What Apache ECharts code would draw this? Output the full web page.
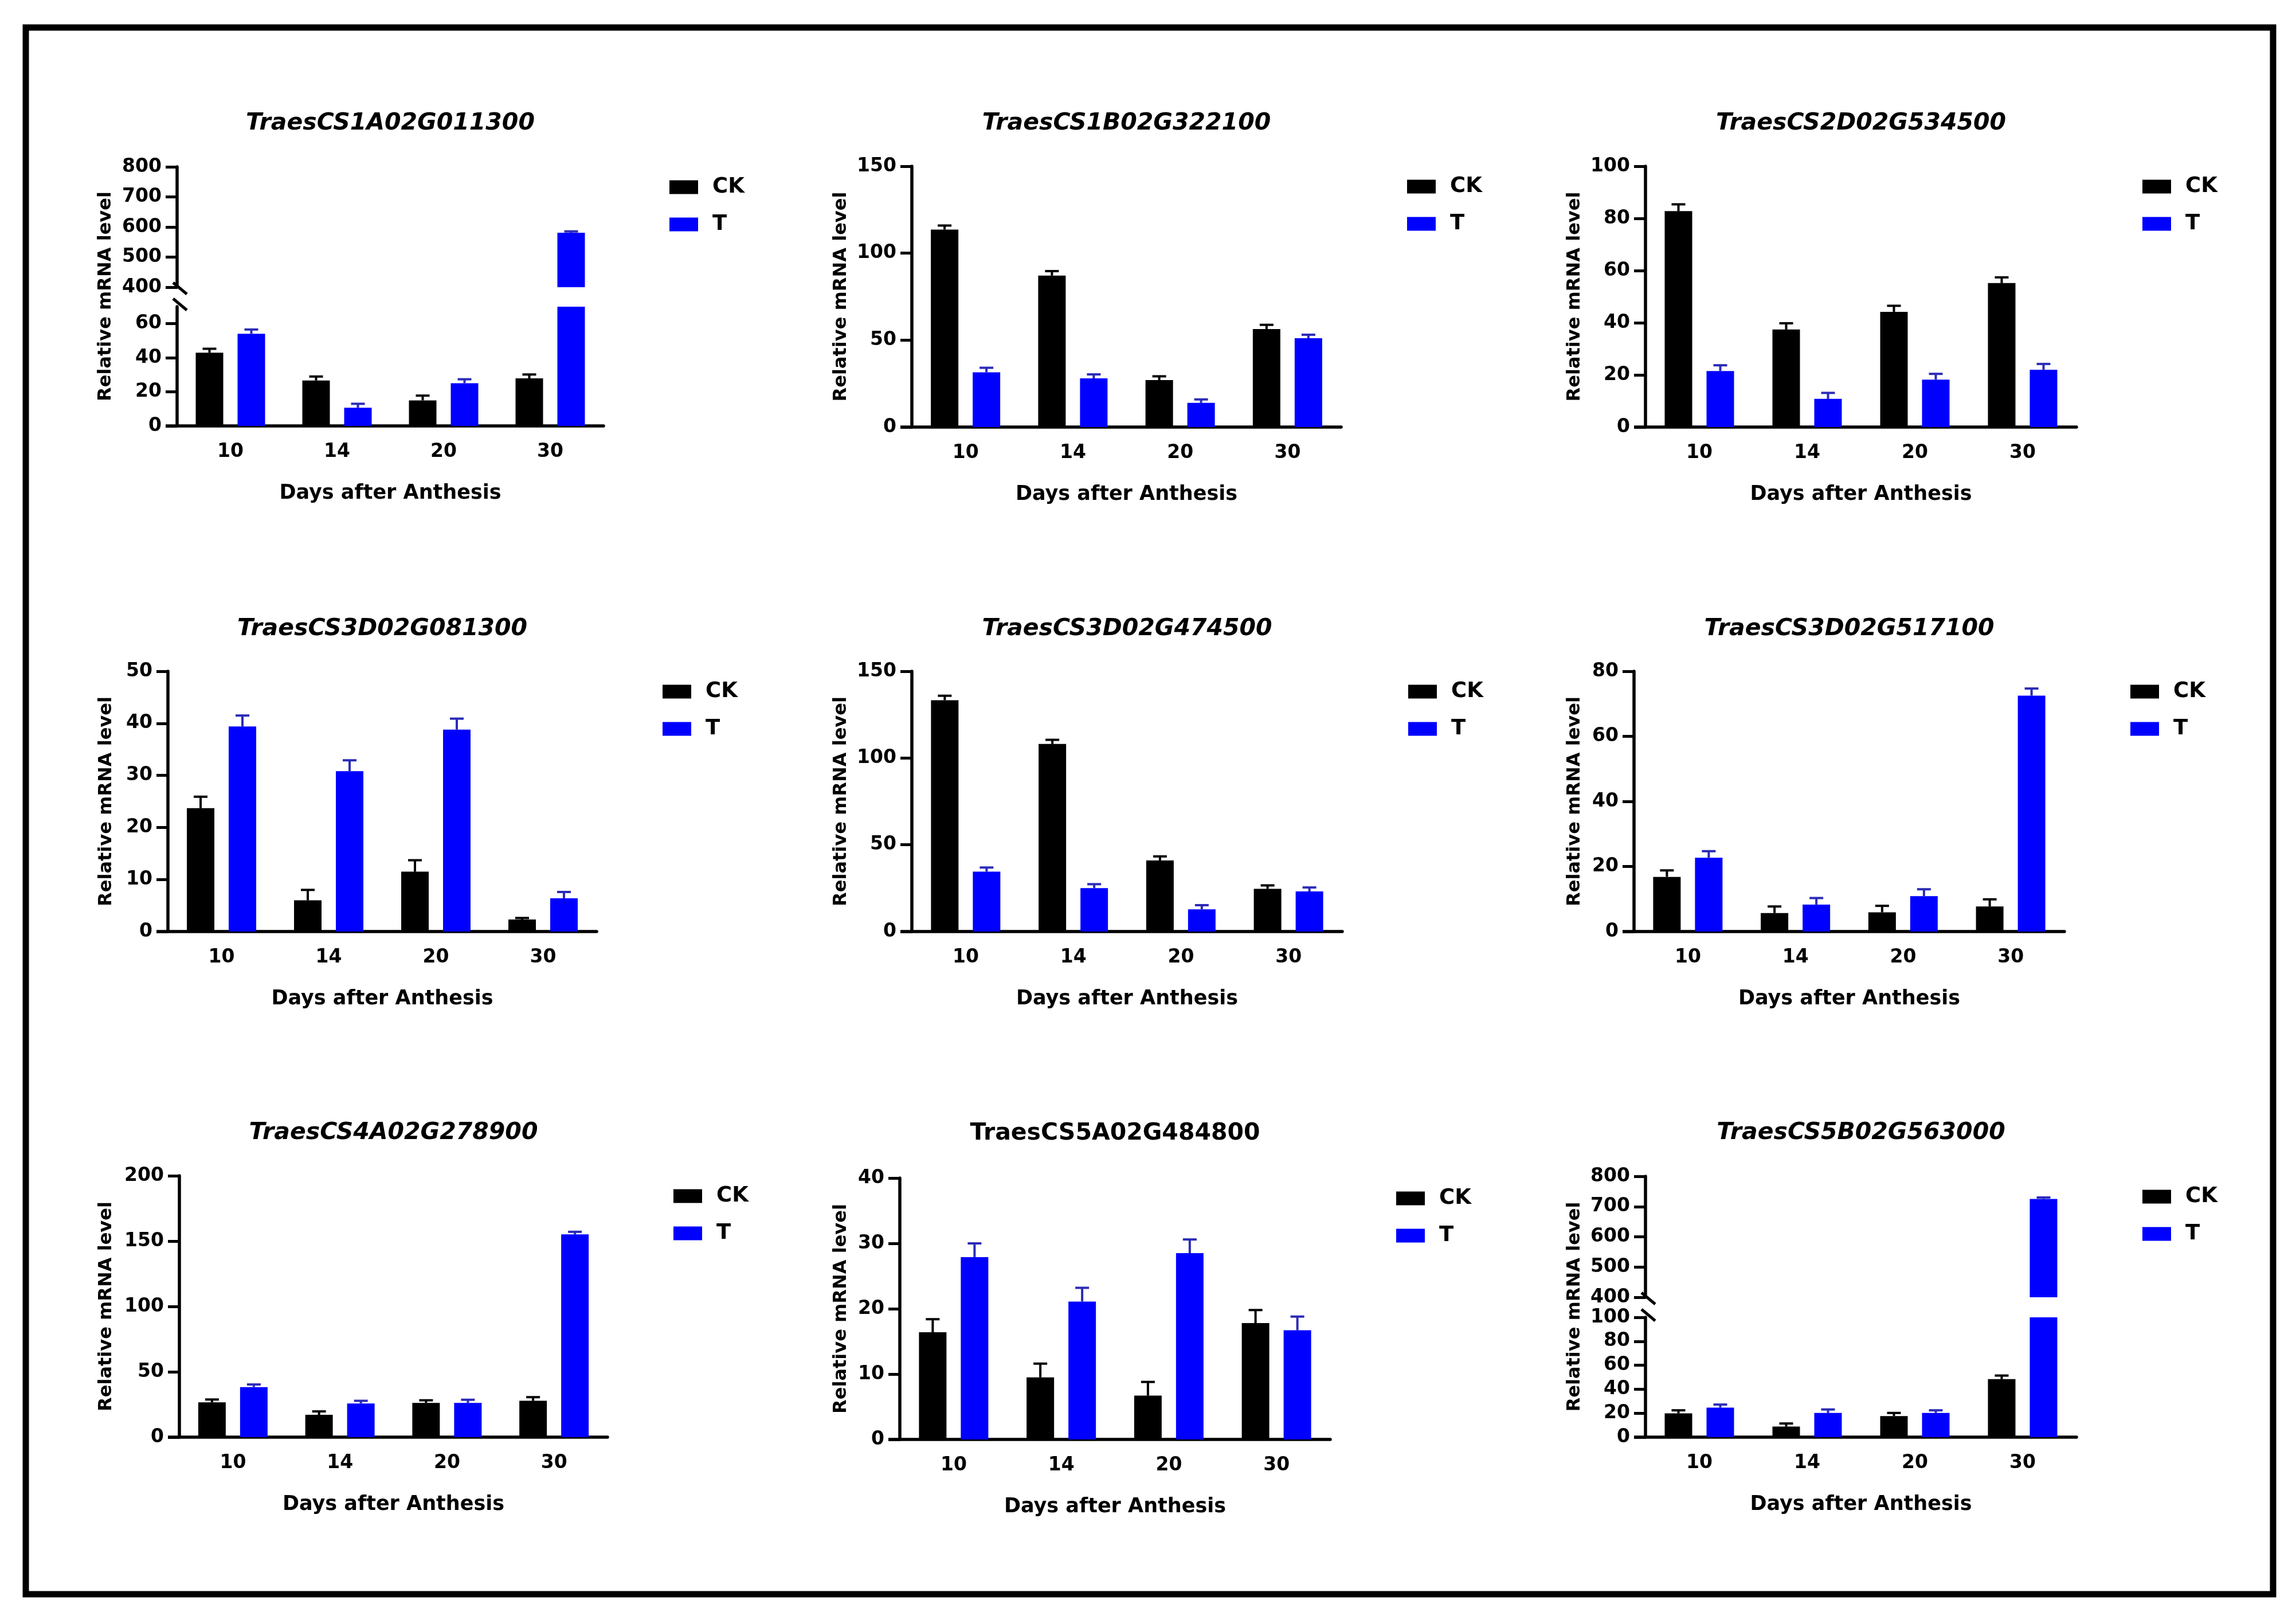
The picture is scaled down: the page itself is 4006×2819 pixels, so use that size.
<!DOCTYPE html>
<html><head><meta charset="utf-8">
<script src="https://cdn.jsdelivr.net/npm/echarts@6/dist/echarts.min.js"></script>
<style>html,body{margin:0;padding:0;background:#fff}#c{width:4006px;height:2819px}</style>
</head><body><div id="c"></div>
<script>
// ---------------- DATA ----------------
const days = ['10', '14', '20', '30'];
const seriesNames = ['CK', 'T'];
const xName = 'Days after Anthesis';
const yName = 'Relative mRNA level';
const genes = ['TraesCS1A02G011300', 'TraesCS1B02G322100', 'TraesCS2D02G534500',
               'TraesCS3D02G081300', 'TraesCS3D02G474500', 'TraesCS3D02G517100',
               'TraesCS4A02G278900', 'TraesCS5A02G484800', 'TraesCS5B02G563000'];

const p1_ck = [43, 26.7, 15, 27.9],     p1_ckErr = [2.3, 2.3, 2.8, 2.3];
const p1_t  = [54.1, 10.7, 25.1, 581],  p1_tErr  = [2.5, 2.3, 2.3, 4.5];
const p2_ck = [113.6, 87.1, 27, 56.4],  p2_ckErr = [2.3, 2.6, 2.2, 2.4];
const p2_t  = [31.5, 28, 13.9, 51.1],   p2_tErr  = [2.6, 2.3, 2, 2];
const p3_ck = [82.8, 37.4, 44.2, 55.2], p3_ckErr = [2.6, 2.4, 2.3, 2.2];
const p3_t  = [21.5, 10.8, 18.2, 22],   p3_tErr  = [2.2, 2.3, 2.2, 2.2];
const p4_ck = [23.7, 6, 11.5, 2.3],     p4_ckErr = [2.2, 2, 2.2, 0.3];
const p4_t  = [39.4, 30.8, 38.8, 6.4],  p4_tErr  = [2.1, 2.1, 2.1, 1.2];
const p5_ck = [133.3, 108.1, 41, 24.6], p5_ckErr = [2.6, 2.4, 2.3, 2];
const p5_t  = [34.5, 25, 12.8, 23.1],   p5_tErr  = [2.4, 2.3, 2.4, 2.3];
const p6_ck = [16.8, 5.7, 5.9, 7.7],    p6_ckErr = [2, 2, 2, 2.2];
const p6_t  = [22.7, 8.3, 10.9, 72.5],  p6_tErr  = [2, 2, 2.1, 2.2];
const p7_ck = [26.6, 17.1, 26.2, 27.8], p7_ckErr = [2.2, 2.6, 2, 2.8];
const p7_t  = [38.3, 25.8, 26.2, 155.1],p7_tErr  = [2, 2, 2.4, 2];
const p8_ck = [16.4, 9.5, 6.7, 17.8],   p8_ckErr = [2, 2.1, 2.1, 2];
const p8_t  = [27.9, 21.1, 28.5, 16.7], p8_tErr  = [2.1, 2.1, 2.1, 2.1];
const p9_ck = [19.8, 8.8, 17.6, 48.4],  p9_ckErr = [2.6, 2.6, 2.6, 3];
const p9_t  = [24.6, 20.2, 20.2, 725],  p9_tErr  = [2.6, 2.9, 2.2, 5];

// y tick labels per panel (lower segment; upper segment for broken axes)
const p1_ticks = [0, 20, 40, 60], p1_upperTicks = [400, 500, 600, 700, 800];
const p2_ticks = [0, 50, 100, 150];
const p3_ticks = [0, 20, 40, 60, 80, 100];
const p4_ticks = [0, 10, 20, 30, 40, 50];
const p5_ticks = [0, 50, 100, 150];
const p6_ticks = [0, 20, 40, 60, 80];
const p7_ticks = [0, 50, 100, 150, 200];
const p8_ticks = [0, 10, 20, 30, 40];
const p9_ticks = [0, 20, 40, 60, 80, 100], p9_upperTicks = [400, 500, 600, 700, 800];
// lower-segment maximum of the broken axes
const p1_lowerMax = 70, p9_lowerMax = 100;

// ---------------- LAYOUT / STYLE ----------------
const FONT = 'DejaVu Sans';
const panels = [
  {ck:p1_ck, ckE:p1_ckErr, t:p1_t, tE:p1_tErr, ticks:p1_ticks, upper:p1_upperTicks, lowerMax:p1_lowerMax, italic:true},
  {ck:p2_ck, ckE:p2_ckErr, t:p2_t, tE:p2_tErr, ticks:p2_ticks, italic:true},
  {ck:p3_ck, ckE:p3_ckErr, t:p3_t, tE:p3_tErr, ticks:p3_ticks, italic:true},
  {ck:p4_ck, ckE:p4_ckErr, t:p4_t, tE:p4_tErr, ticks:p4_ticks, italic:true},
  {ck:p5_ck, ckE:p5_ckErr, t:p5_t, tE:p5_tErr, ticks:p5_ticks, italic:true},
  {ck:p6_ck, ckE:p6_ckErr, t:p6_t, tE:p6_tErr, ticks:p6_ticks, italic:true},
  {ck:p7_ck, ckE:p7_ckErr, t:p7_t, tE:p7_tErr, ticks:p7_ticks, italic:true},
  {ck:p8_ck, ckE:p8_ckErr, t:p8_t, tE:p8_tErr, ticks:p8_ticks, italic:false},
  {ck:p9_ck, ckE:p9_ckErr, t:p9_t, tE:p9_tErr, ticks:p9_ticks, upper:p9_upperTicks, lowerMax:p9_lowerMax, italic:true}
];
const layout = [
  {l:309,  r:1053, t:291,  b:743,  ub:501,  lt:535,  titleY:217,  yGap:108},
  {l:1591, r:2340, t:290,  b:745,  titleY:217,  yGap:107},
  {l:2871, r:3623, t:290,  b:745,  titleY:217,  yGap:107},
  {l:293,  r:1041, t:1171, b:1625, titleY:1099, yGap:91},
  {l:1591, r:2342, t:1171, b:1625, titleY:1099, yGap:107},
  {l:2851, r:3602, t:1171, b:1625, titleY:1099, yGap:87},
  {l:313,  r:1060, t:2051, b:2507, titleY:1978, yGap:111},
  {l:1570, r:2321, t:2055, b:2511, titleY:1979, yGap:86},
  {l:2871, r:3623, t:2052, b:2507, ub:2263, lt:2298, titleY:1978, yGap:107}
];
const CK_COLOR = '#000000', T_COLOR = '#0000FF', T_ERR = '#2b2bb8';
const BAR_W = 48, BAR_GAP = 25, OFF = (BAR_W + BAR_GAP) / 2;
const AX_W = 5.5;

function errRender(off, color) {
  return function (params, api) {
    const idx = api.value(0), m = api.value(1), e = api.value(2);
    const p0 = api.coord([idx, m]);
    const p1 = api.coord([idx, m + e]);
    const x = p0[0] + off;
    return {
      type: 'group',
      children: [
        {type: 'line', shape: {x1: x, y1: p0[1], x2: x, y2: p1[1]}, style: {stroke: color, lineWidth: 4}},
        {type: 'line', shape: {x1: x - 12, y1: p1[1], x2: x + 12, y2: p1[1]}, style: {stroke: color, lineWidth: 4}}
      ]
    };
  };
}

const labelStyle = {fontFamily: FONT, fontWeight: 'bold', fontSize: 33, color: '#000'};
const option = {
  animation: false,
  backgroundColor: '#ffffff',
  textStyle: {fontFamily: FONT},
  grid: [], xAxis: [], yAxis: [], series: [], title: [], legend: [], graphic: []
};

panels.forEach((p, i) => {
  const L = layout[i];
  const W = L.r - L.l;
  const parts = [];
  if (p.upper) {
    parts.push({top: L.t, bottom: L.ub, ticks: p.upper, min: p.upper[0], max: p.upper[p.upper.length - 1], showX: false});
    parts.push({top: L.lt, bottom: L.b, ticks: p.ticks, min: 0, max: p.lowerMax, showX: true});
  } else {
    parts.push({top: L.t, bottom: L.b, ticks: p.ticks, min: 0, max: p.ticks[p.ticks.length - 1], showX: true, yname: true});
  }
  parts.forEach(part => {
    const gi = option.grid.length;
    option.grid.push({left: L.l, top: part.top, width: W, height: part.bottom - part.top});
    option.xAxis.push({
      gridIndex: gi, type: 'category', data: days, show: part.showX,
      axisLine: {onZero: false, lineStyle: {color: '#000', width: AX_W}},
      axisTick: {alignWithLabel: true, length: 20, lineStyle: {color: '#000', width: 5}},
      axisLabel: Object.assign({margin: 29}, labelStyle),
      name: part.showX ? xName : '', nameLocation: 'middle', nameGap: 100,
      nameTextStyle: {fontFamily: FONT, fontWeight: 'bold', fontSize: 35, color: '#000'}
    });
    const step = part.ticks[1] - part.ticks[0];
    option.yAxis.push({
      gridIndex: gi, type: 'value', min: part.min, max: part.max, interval: step,
      splitLine: {show: false},
      axisLine: {show: true, onZero: false, lineStyle: {color: '#000', width: AX_W}},
      axisTick: {show: true, length: 20, lineStyle: {color: '#000', width: 5}, customValues: part.ticks},
      axisLabel: Object.assign({margin: 27, customValues: part.ticks,
        formatter: v => (part.ticks.indexOf(v) >= 0 ? String(v) : '')}, labelStyle),
      name: part.yname ? yName : '', nameLocation: 'middle', nameGap: L.yGap, nameRotate: 90,
      nameTextStyle: {fontFamily: FONT, fontWeight: 'bold', fontSize: 32, color: '#000'}
    });
    option.series.push(
      {name: 'CK', type: 'bar', xAxisIndex: gi, yAxisIndex: gi, data: p.ck, barWidth: BAR_W,
       barGap: (BAR_GAP / BAR_W * 100) + '%', itemStyle: {color: CK_COLOR}, clip: true},
      {name: 'T', type: 'bar', xAxisIndex: gi, yAxisIndex: gi, data: p.t, barWidth: BAR_W,
       barGap: (BAR_GAP / BAR_W * 100) + '%', itemStyle: {color: T_COLOR}, clip: true},
      {type: 'custom', xAxisIndex: gi, yAxisIndex: gi, clip: true, z: 3,
       renderItem: errRender(-OFF, '#000'), data: p.ck.map((v, k) => [k, v, p.ckE[k]])},
      {type: 'custom', xAxisIndex: gi, yAxisIndex: gi, clip: true, z: 3,
       renderItem: errRender(OFF, T_ERR), data: p.t.map((v, k) => [k, v, p.tE[k]])}
    );
  });
  if (p.upper) {
    // invisible full-height axis carrying the y-axis name
    const gi = option.grid.length;
    option.grid.push({left: L.l, top: L.t, width: W, height: L.b - L.t});
    option.xAxis.push({gridIndex: gi, type: 'category', data: days, show: false});
    option.yAxis.push({gridIndex: gi, type: 'value', min: 0, max: 1,
      axisLine: {show: false}, axisTick: {show: false}, axisLabel: {show: false}, splitLine: {show: false},
      name: yName, nameLocation: 'middle', nameGap: L.yGap, nameRotate: 90,
      nameTextStyle: {fontFamily: FONT, fontWeight: 'bold', fontSize: 32, color: '#000'}});
    // break marks on the y axis
    [[L.ub - 8, L.ub + 12], [L.lt - 14, L.lt + 6]].forEach(([y1, y2]) => {
      option.graphic.push({type: 'line', shape: {x1: L.l - 7, y1: y1, x2: L.l + 17, y2: y2},
        style: {stroke: '#000', lineWidth: 5}, z: 10});
    });
  }
  // x-axis line extends a little to the left of the y axis
  option.graphic.push({type: 'line', shape: {x1: L.l - 20, y1: L.b, x2: L.l, y2: L.b},
    style: {stroke: '#000', lineWidth: AX_W}, z: 10});
  option.title.push({
    text: genes[i], left: (L.l + L.r) / 2, top: L.titleY - 22, textAlign: 'center', padding: 0,
    textStyle: {fontFamily: FONT, fontWeight: 'bold', fontStyle: p.italic ? 'italic' : 'normal', fontSize: 41, color: '#000'}
  });
  option.legend.push({
    data: seriesNames, orient: 'vertical', left: L.r + 115, top: L.t + 17,
    icon: 'rect', itemWidth: 50, itemHeight: 24, itemGap: 28, selectedMode: false, padding: 0,
    itemStyle: {borderWidth: 0},
    textStyle: {fontFamily: FONT, fontWeight: 'bold', fontSize: 37, color: '#000', padding: [0, 0, 0, 20]}
  });
});

// outer frame
option.graphic.push({type: 'rect', shape: {x: 45, y: 48, width: 3921, height: 2733},
  style: {fill: 'none', stroke: '#000', lineWidth: 11}, z: 20});

const chart = echarts.init(document.getElementById('c'), null, {renderer: 'canvas', width: 4006, height: 2819});
chart.setOption(option);
</script>
</body></html>
